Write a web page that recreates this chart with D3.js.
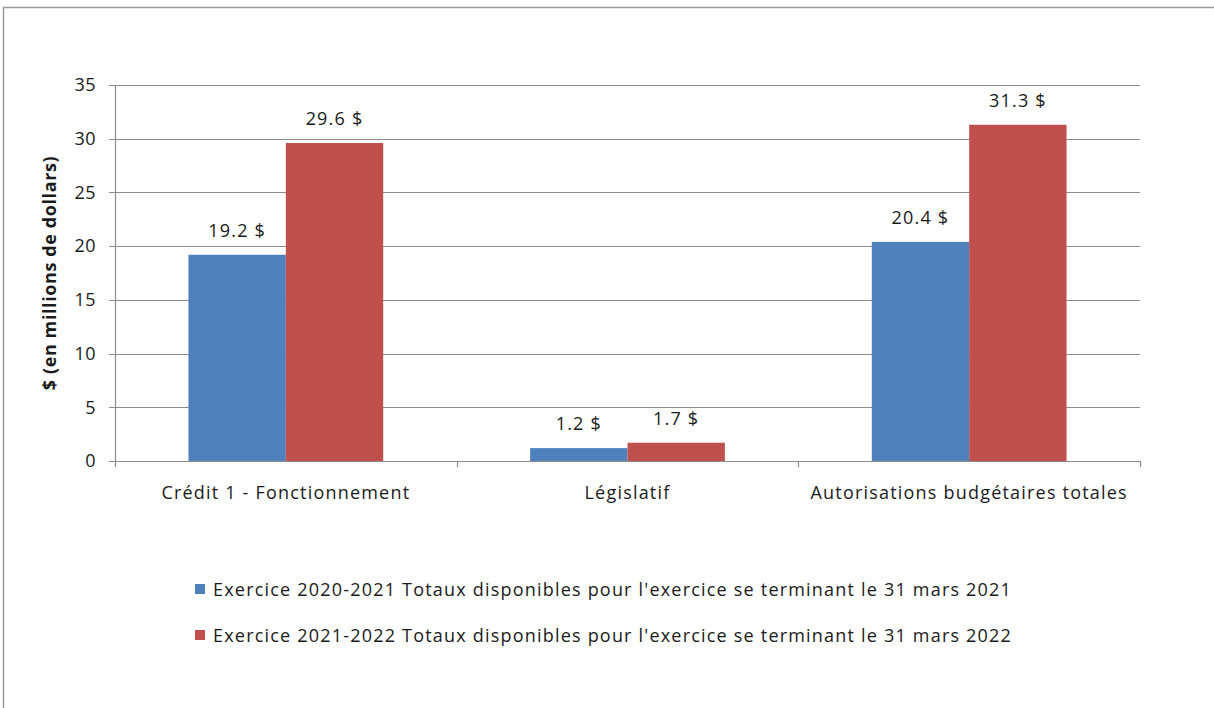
<!DOCTYPE html>
<html>
<head>
<meta charset="utf-8">
<script src="https://cdn.jsdelivr.net/npm/d3@7"></script>
<style>
  body { margin: 0; background: #fff; }
  text { font-family: "Open Sans", sans-serif; fill: #1a1a1a; }
</style>
</head>
<body>
<div class="chart"></div>
<script>
let categories = ['Crédit 1 - Fonctionnement', 'Législatif', 'Autorisations budgétaires totales'];
let seriesNames = [
	"Exercice 2020-2021 Totaux disponibles pour l'exercice se terminant le 31 mars 2021",
	"Exercice 2021-2022 Totaux disponibles pour l'exercice se terminant le 31 mars 2022"
];
let values2021 = [19.2, 1.2, 20.4];
let values2022 = [29.6, 1.7, 31.3];
let yTicks = [0, 5, 10, 15, 20, 25, 30, 35];
let colors = ['#4f81bd', '#c0504d'];

let fullW = 1214, fullH = 708;
let margin = {top: 85, left: 115, right: 74, bottom: 247};
let width = fullW - margin.left - margin.right;
let height = fullH - margin.top - margin.bottom;

let svg = d3.select('.chart')
	.append('svg')
	.attr('width', fullW)
	.attr('height', fullH);

// outer frame (runs off the right and bottom)
svg.append('rect')
	.attr('x', 3.5).attr('y', 7.5)
	.attr('width', 1240).attr('height', 760)
	.style('fill', 'none')
	.style('stroke', '#9a9a9a')
	.style('stroke-width', 1.5);

let g = svg.append('g')
	.attr('transform', 'translate(' + margin.left + ', ' + margin.top + ')');

let x0 = d3.scaleBand()
	.domain(categories)
	.range([0, width])
	.paddingInner(0.43)
	.paddingOuter(0.215);

let x1 = d3.scaleBand()
	.domain([0, 1])
	.range([0, x0.bandwidth()]);

let yScale = d3.scaleLinear()
	.domain([0, 35])
	.range([height, 0]);

// gridlines
g.selectAll('.grid')
	.data(yTicks)
	.enter()
	.append('line')
	.attr('x1', -6).attr('x2', width)
	.attr('y1', d => Math.round(yScale(d)) + 0.5)
	.attr('y2', d => Math.round(yScale(d)) + 0.5)
	.style('stroke', '#8c8c8c')
	.style('stroke-width', 1.2);

// y axis labels
let yAxis = g.append('g')
	.call(d3.axisLeft(yScale).tickValues(yTicks).tickSize(0).tickPadding(19));
yAxis.select('.domain').remove();
yAxis.selectAll('text')
	.style('font-size', '18px')
	.style('font-family', '"Open Sans", sans-serif')
	.style('letter-spacing', '0.5px')
	.style('fill', '#1a1a1a');

// y axis line
g.append('line')
	.attr('x1', 0.5).attr('x2', 0.5)
	.attr('y1', 0).attr('y2', height)
	.style('stroke', '#8c8c8c')
	.style('stroke-width', 1.2);

// category ticks
let catEdges = [0, 1, 2, 3].map(i => i * width / 3);
g.selectAll('.ctick')
	.data(catEdges)
	.enter()
	.append('line')
	.attr('x1', d => Math.round(d) + 0.5).attr('x2', d => Math.round(d) + 0.5)
	.attr('y1', height).attr('y2', height + 6)
	.style('stroke', '#8c8c8c')
	.style('stroke-width', 1.2);

// category labels
g.selectAll('.clabel')
	.data(categories)
	.enter()
	.append('text')
	.attr('x', d => x0(d) + x0.bandwidth() / 2)
	.attr('y', height + 38)
	.attr('text-anchor', 'middle')
	.style('font-size', '18px')
	.style('letter-spacing', '1.2px')
	.text(d => d);

let data = categories.map((c, i) => ({cat: c, vals: [values2021[i], values2022[i]]}));

let groups = g.selectAll('.grp')
	.data(data)
	.enter()
	.append('g')
	.attr('transform', d => 'translate(' + x0(d.cat) + ',0)');

groups.selectAll('rect')
	.data(d => d.vals)
	.enter()
	.append('rect')
	.attr('x', (d, i) => x1(i))
	.attr('width', x1.bandwidth())
	.attr('y', d => yScale(d))
	.attr('height', d => height - yScale(d))
	.style('fill', (d, i) => colors[i]);

groups.selectAll('.vlabel')
	.data(d => d.vals)
	.enter()
	.append('text')
	.attr('x', (d, i) => x1(i) + x1.bandwidth() / 2)
	.attr('y', d => yScale(d) - 18)
	.attr('text-anchor', 'middle')
	.style('font-size', '18px')
	.style('letter-spacing', '1.2px')
	.text(d => d.toFixed(1) + ' $');

// y title
svg.append('text')
	.attr('transform', 'translate(56,' + (margin.top + height / 2) + ') rotate(-90)')
	.attr('text-anchor', 'middle')
	.style('font-size', '18px')
	.style('font-weight', 'bold')
	.style('letter-spacing', '0.6px')
	.text('$ (en millions de dollars)');

// legend
let legend = svg.selectAll('.legend')
	.data(seriesNames)
	.enter()
	.append('g')
	.attr('transform', (d, i) => 'translate(195,' + (584 + i * 46) + ')');

legend.append('rect')
	.attr('width', 10).attr('height', 10)
	.style('fill', (d, i) => colors[i]);

legend.append('text')
	.attr('x', 18)
	.attr('y', 12)
	.style('font-size', '18px')
	.style('letter-spacing', '1.2px')
	.text(d => d);
</script>
</body>
</html>
